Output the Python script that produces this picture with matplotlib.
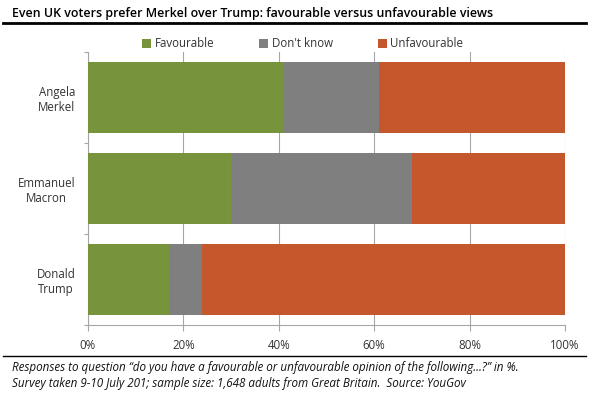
import matplotlib
matplotlib.use('Agg')
import matplotlib.pyplot as plt
import numpy as np

# Data (percent)
people = ['Angela\nMerkel', 'Emmanuel\nMacron', 'Donald\nTrump']
favourable = [41, 30, 17]
dont_know = [20, 38, 7]
unfavourable = [39, 32, 76]
series_names = ['Favourable', "Don't know", 'Unfavourable']
colors = ['#77933C', '#7F7F7F', '#C4582C']
xticks = [0, 20, 40, 60, 80, 100]

title = 'Even UK voters prefer Merkel over Trump: favourable versus unfavourable views'
note = ('Responses to question \u201cdo you have a favourable or unfavourable opinion of the following...?\u201d in %.\n'
        'Survey taken 9-10 July 201; sample size: 1,648 adults from Great Britain.  Source: YouGov')

plt.rcParams['font.family'] = ['Open Sans', 'DejaVu Sans']

fig = plt.figure(figsize=(5.89, 3.94), dpi=100)
ax = fig.add_axes([88 / 589, 1 - 325 / 394, 477 / 589, 273 / 394])

y = np.arange(len(people))
left = np.zeros(len(people))
for name, vals, col in zip(series_names, [favourable, dont_know, unfavourable], colors):
    ax.barh(y, vals, left=left, height=0.77, color=col, label=name, zorder=3)
    left += np.array(vals)

ax.set_xlim(0, 100)
ax.set_ylim(2.5, -0.5)
ax.set_xticks(xticks)
ax.set_xticklabels([f'{v}%' for v in xticks], fontsize=8.3, color='#333333')
ax.set_yticks(y)
ax.set_yticklabels(people, fontsize=8.3, color='#333333', multialignment='center')
ax.set_yticks([-0.5, 0.5, 1.5, 2.5], minor=True)
ax.tick_params(axis='y', which='major', length=0, pad=9)
ax.tick_params(axis='y', which='minor', length=3, color='#A6A6A6', width=0.8)
ax.tick_params(axis='x', length=4, color='#A6A6A6', width=0.8, pad=6)
ax.grid(axis='x', color='#A6A6A6', linewidth=0.8, zorder=0)
for side in ['top', 'right']:
    ax.spines[side].set_visible(False)
for side in ['left', 'bottom']:
    ax.spines[side].set_color('#A6A6A6')
    ax.spines[side].set_linewidth(0.8)

ax.legend(loc='lower center', bbox_to_anchor=(0.45, 0.985), ncol=3, frameon=False,
          fontsize=8.3, handlelength=0.8, handleheight=0.8, handletextpad=0.3,
          columnspacing=3.9, borderaxespad=0.1, labelcolor='#333333')

fig.text(12 / 589, 1 - 13 / 394, title, fontsize=8.9, fontweight='semibold',
         va='center', ha='left')
fig.add_artist(plt.Line2D([3 / 589, 586 / 589], [1 - 23 / 394] * 2, color='black', linewidth=2))
fig.add_artist(plt.Line2D([3 / 589, 586 / 589], [1 - 356 / 394] * 2, color='black', linewidth=1))
fig.text(12 / 589, 1 - 376 / 394, note, fontsize=8.4, style='italic', va='center', ha='left',
         linespacing=1.3, color='#111111')

fig.savefig('out.png', dpi=100)
